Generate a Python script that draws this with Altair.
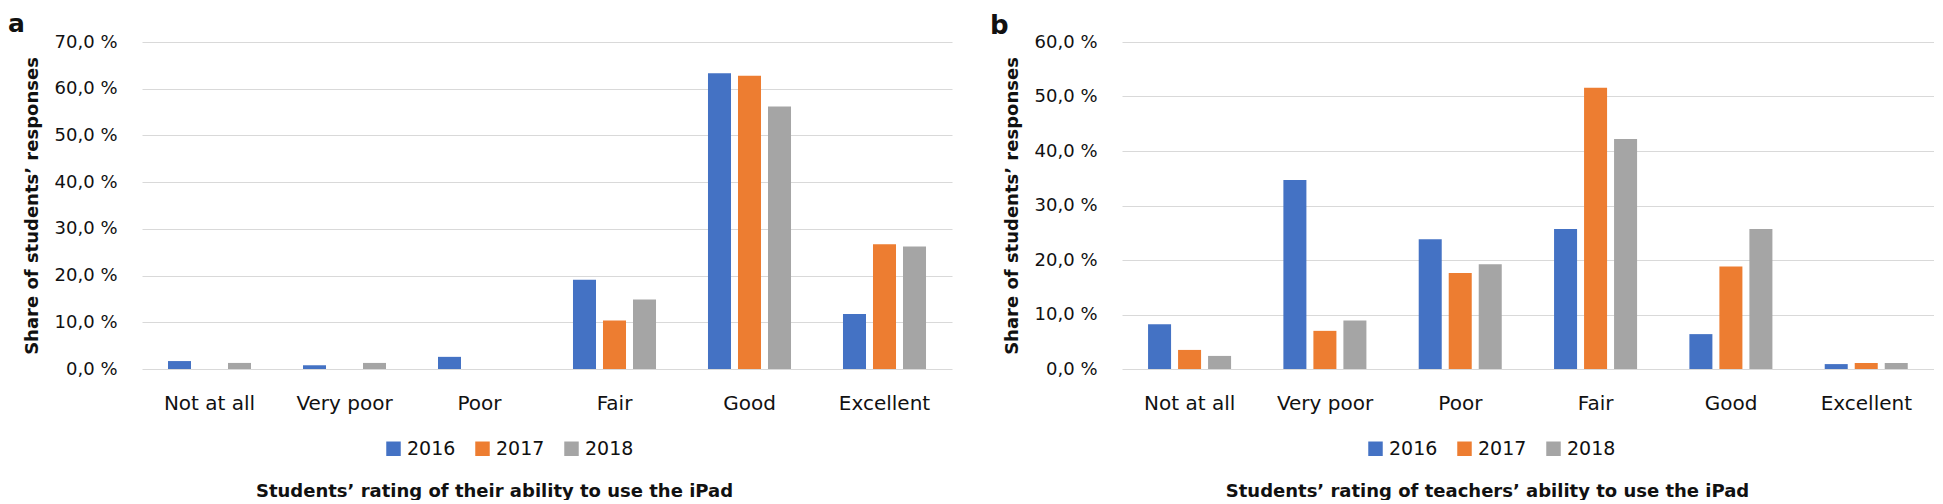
import altair as alt
import pandas as pd

categories = ["Not at all", "Very poor", "Poor", "Fair", "Good", "Excellent"]
years = ["2016", "2017", "2018"]
colors = ["#4472C4", "#ED7D31", "#A5A5A5"]

# Panel a: students' rating of their own ability (% of responses)
a_2016 = [1.7, 0.8, 2.6, 19.1, 63.3, 11.8]
a_2017 = [0.0, 0.0, 0.0, 10.4, 62.8, 26.7]
a_2018 = [1.3, 1.3, 0.0, 14.9, 56.2, 26.2]

# Panel b: students' rating of teachers' ability (% of responses)
b_2016 = [8.2, 34.7, 23.8, 25.7, 6.4, 0.9]
b_2017 = [3.5, 7.0, 17.6, 51.6, 18.8, 1.1]
b_2018 = [2.4, 8.9, 19.2, 42.2, 25.7, 1.1]

y_title = "Share of students\u2019 responses"
title_a = "Students\u2019 rating of their ability to use the iPad"
title_b = "Students\u2019 rating of teachers\u2019 ability to use the iPad"

FONT = "DejaVu Sans"
TXT = "#111111"
H = 327


def make_df(s16, s17, s18):
    rows = []
    for series, yr in zip([s16, s17, s18], years):
        for c, v in zip(categories, series):
            rows.append({"cat": c, "year": yr, "value": v})
    return pd.DataFrame(rows)


def panel(df, ymax, width, letter, letter_x, letter_y, letter_size,
          title, title_x, legend_x):
    bars = alt.Chart(df).mark_bar().encode(
        x=alt.X(
            "cat:N",
            sort=categories,
            scale=alt.Scale(paddingInner=0.385, paddingOuter=0.1925),
            axis=alt.Axis(
                title=title,
                labelAngle=0,
                labelFont=FONT,
                labelFontSize=20,
                labelColor=TXT,
                labelBaseline="alphabetic",
                labelPadding=40,
                titleFont=FONT,
                titleFontSize=18,
                titleFontWeight="bold",
                titleColor=TXT,
                titleX=title_x,
                titleY=127,
                titleAlign="center",
                titleBaseline="alphabetic",
                domain=False,
                ticks=False,
                grid=False,
            ),
        ),
        xOffset=alt.XOffset("year:N", sort=years,
                            scale=alt.Scale(paddingInner=0.233, paddingOuter=0)),
        y=alt.Y(
            "value:Q",
            scale=alt.Scale(domain=[0, ymax], nice=False),
            axis=alt.Axis(
                title=y_title,
                values=list(range(0, ymax + 1, 10)),
                labelExpr="replace(format(datum.value, '.1f'), '.', ',') + ' %'",
                labelFont=FONT,
                labelFontSize=18,
                labelColor=TXT,
                labelPadding=25,
                titleFont=FONT,
                titleFontSize=18,
                titleFontWeight="bold",
                titleColor=TXT,
                titleX=-110,
                titleY=H / 2,
                titleAngle=270,
                titleAlign="center",
                titleBaseline="middle",
                domain=False,
                ticks=False,
                grid=True,
                gridColor="#D9D9D9",
                gridWidth=1,
            ),
        ),
        color=alt.Color(
            "year:N",
            sort=years,
            scale=alt.Scale(domain=years, range=colors),
            legend=alt.Legend(
                title=None,
                orient="none",
                direction="horizontal",
                legendX=legend_x,
                legendY=397,
                symbolType="square",
                symbolSize=210,
                symbolStrokeWidth=0,
                symbolOpacity=1,
                labelFont=FONT,
                labelFontSize=19,
                labelColor=TXT,
                labelOffset=4,
                columnPadding=17,
                padding=0,
            ),
        ),
    )
    lab = alt.Chart(pd.DataFrame({"t": [letter]})).mark_text(
        align="left", baseline="alphabetic", font=FONT, fontSize=letter_size,
        fontWeight="bold", color=TXT,
    ).encode(x=alt.value(letter_x), y=alt.value(letter_y), text="t:N")
    return alt.layer(bars, lab).properties(width=width, height=H)


pa = panel(make_df(a_2016, a_2017, a_2018), 70, 810, "a", -134, -10.5, 25,
           title_a, 352, 242)
pb = panel(make_df(b_2016, b_2017, b_2018), 60, 812, "b", -132, -8.0, 26,
           title_b, 365, 244)

chart = alt.hconcat(pa, pb, spacing=170, bounds="flush").properties(
    padding={"left": 0, "top": 3, "right": 0, "bottom": 0}
).configure_view(stroke=None).resolve_scale(color="independent", y="independent")

chart.save("out.html", embed_options={"renderer": "svg", "actions": False})
